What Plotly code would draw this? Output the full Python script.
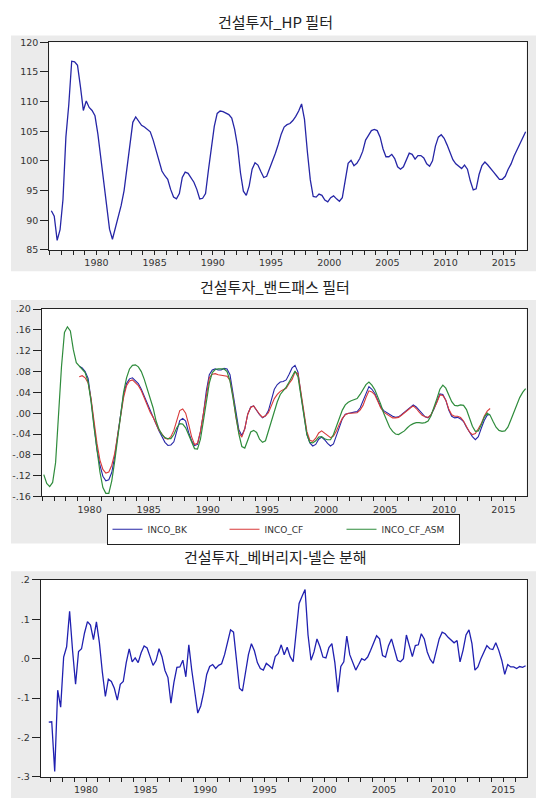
import plotly.graph_objects as go

# ---------------- data (quarterly) ----------------
hp_start = (1976, 1)
hp_values = [
    91.6, 90.7, 86.6, 88.4,
    93.5, 104.0, 109.5, 116.8,
    116.7, 116.1, 112.5, 108.5,
    110.1, 109.0, 108.5, 107.6,
    104.5, 100.5, 96.3, 92.8,
    88.5, 86.8, 88.6, 90.5,
    92.5, 95.0, 99.0, 103.0,
    106.5, 107.4, 106.6, 106.0,
    105.7, 105.3, 104.9, 103.5,
    101.8, 99.8, 98.3, 97.5,
    96.9, 95.2, 93.9, 93.6,
    94.5, 97.2, 98.1, 97.9,
    97.1, 96.4, 95.2, 93.6,
    93.7, 94.5, 98.5, 102.5,
    105.8, 108.0, 108.4, 108.3,
    108.1, 107.8, 107.2, 105.3,
    102.5, 98.0, 94.9, 94.2,
    95.8, 98.6, 99.7, 99.3,
    98.2, 97.2, 97.4, 98.6,
    100.0, 101.3, 102.8, 104.5,
    105.7, 106.1, 106.3, 106.8,
    107.5, 108.4, 109.6, 107.0,
    101.5, 96.8, 94.0, 93.9,
    94.4, 94.2, 93.4, 93.1,
    93.8, 94.1, 93.6, 93.2,
    93.8, 97.0, 99.6, 100.1,
    99.2, 99.6, 100.4, 101.6,
    103.5, 104.3, 105.1, 105.3,
    105.1, 104.0, 102.0, 100.7,
    100.7, 101.1, 100.4, 99.0,
    98.6, 99.0, 100.1, 101.3,
    101.1, 100.3, 100.9, 100.9,
    100.5, 99.5, 99.1, 100.0,
    102.5, 104.0, 104.4, 103.8,
    102.7, 101.5, 100.2, 99.5,
    99.1, 98.7, 99.3, 98.6,
    96.6, 95.1, 95.3, 97.7,
    99.2, 99.8, 99.3, 98.6,
    98.1, 97.5, 96.9, 96.9,
    97.4, 98.6, 99.5, 100.8,
    101.9, 102.9, 103.8, 104.9,
]

asm_start = (1976, 1)
inco_cf_asm = [
    -0.118, -0.135, -0.141, -0.133,
    -0.095, 0.010, 0.090, 0.155,
    0.166, 0.158, 0.122, 0.097,
    0.091, 0.086, 0.078, 0.060,
    0.022, -0.027, -0.072, -0.113,
    -0.143, -0.154, -0.154, -0.130,
    -0.092, -0.050, 0.000, 0.040,
    0.068, 0.085, 0.092, 0.093,
    0.089, 0.080, 0.065, 0.047,
    0.030, 0.010, -0.015, -0.031,
    -0.041, -0.047, -0.049, -0.049,
    -0.041, -0.028, -0.020, -0.021,
    -0.028, -0.041, -0.057, -0.068,
    -0.069, -0.050, -0.015, 0.025,
    0.058, 0.078, 0.084, 0.085,
    0.085, 0.085, 0.080, 0.062,
    0.030, -0.005, -0.040, -0.064,
    -0.067, -0.052, -0.036, -0.033,
    -0.037, -0.050, -0.056, -0.053,
    -0.035, -0.015, 0.005, 0.022,
    0.036, 0.043, 0.050, 0.060,
    0.072, 0.081, 0.070, 0.030,
    -0.008, -0.041, -0.056, -0.057,
    -0.053, -0.046, -0.045, -0.049,
    -0.051, -0.051, -0.041, -0.026,
    -0.011, 0.006, 0.016, 0.021,
    0.024, 0.026, 0.028, 0.036,
    0.046, 0.055, 0.060, 0.054,
    0.045, 0.032, 0.017, 0.000,
    -0.012, -0.027, -0.035, -0.040,
    -0.041, -0.038, -0.034, -0.028,
    -0.023, -0.020, -0.018, -0.018,
    -0.019, -0.018, -0.015, -0.005,
    0.010, 0.028, 0.046, 0.054,
    0.048, 0.033, 0.022, 0.015,
    0.014, 0.016, 0.015, 0.007,
    -0.008, -0.025, -0.035, -0.034,
    -0.022, -0.008, 0.000, -0.004,
    -0.016, -0.027, -0.033, -0.035,
    -0.034, -0.027, -0.013, 0.002,
    0.017, 0.030, 0.040, 0.047,
]

bk_start = (1979, 1)
inco_bk = [
    0.090, 0.087, 0.080, 0.067,
    0.025, -0.027, -0.070, -0.100,
    -0.121, -0.130, -0.128, -0.114,
    -0.083, -0.042, -0.002, 0.036,
    0.057, 0.066, 0.068, 0.063,
    0.057, 0.046, 0.032, 0.018,
    0.005, -0.009, -0.021, -0.034,
    -0.045, -0.056, -0.062, -0.061,
    -0.055, -0.032, -0.014, -0.010,
    -0.015, -0.037, -0.053, -0.062,
    -0.060, -0.036, -0.001, 0.043,
    0.074, 0.083, 0.085, 0.083,
    0.083, 0.086, 0.085, 0.074,
    0.038, -0.003, -0.032, -0.043,
    -0.030, -0.002, 0.012, 0.014,
    0.005, -0.003, -0.009, -0.005,
    0.005, 0.028, 0.046, 0.055,
    0.060, 0.061, 0.064, 0.075,
    0.087, 0.092, 0.079, 0.036,
    -0.005, -0.040, -0.057, -0.063,
    -0.060, -0.050, -0.046, -0.051,
    -0.058, -0.063, -0.059, -0.044,
    -0.025, -0.011, -0.002, 0.000,
    0.001, 0.002, 0.003, 0.010,
    0.024, 0.040, 0.051, 0.046,
    0.038, 0.025, 0.012, 0.005,
    0.001, -0.003, -0.006, -0.008,
    -0.007, -0.003, 0.002, 0.007,
    0.011, 0.016, 0.012, 0.006,
    -0.001, -0.007, -0.009, -0.003,
    0.008, 0.022, 0.037, 0.036,
    0.025, 0.006, -0.006, -0.009,
    -0.008, -0.011, -0.016, -0.027,
    -0.037, -0.045, -0.051, -0.045,
    -0.029, -0.014, -0.004, -0.002,
]

cf_start = (1979, 1)
inco_cf = [
    0.070, 0.072, 0.068, 0.058,
    0.028, -0.020, -0.058, -0.090,
    -0.108, -0.115, -0.113, -0.100,
    -0.077, -0.042, -0.006, 0.030,
    0.053, 0.062, 0.064, 0.059,
    0.053, 0.043, 0.029, 0.014,
    0.002, -0.008, -0.020, -0.033,
    -0.040, -0.048, -0.050, -0.045,
    -0.033, -0.013, 0.005, 0.008,
    0.000, -0.021, -0.045, -0.060,
    -0.058, -0.035, -0.001, 0.040,
    0.068, 0.075, 0.076, 0.074,
    0.073, 0.071, 0.071, 0.063,
    0.033, -0.008, -0.037, -0.046,
    -0.030, -0.002, 0.011, 0.014,
    0.005, -0.002, -0.008, -0.005,
    0.001, 0.016, 0.028, 0.036,
    0.042, 0.045, 0.048, 0.057,
    0.065, 0.079, 0.076, 0.040,
    -0.002, -0.035, -0.052, -0.054,
    -0.048, -0.038, -0.034, -0.038,
    -0.043, -0.047, -0.044, -0.034,
    -0.021, -0.010, -0.003, 0.000,
    0.000, 0.000, 0.001, 0.006,
    0.015, 0.030, 0.043, 0.041,
    0.035, 0.023, 0.010, 0.002,
    -0.002, -0.005, -0.009, -0.009,
    -0.008, -0.004, 0.001, 0.006,
    0.010, 0.014, 0.009, 0.002,
    -0.004, -0.007, -0.008, -0.003,
    0.008, 0.021, 0.035, 0.034,
    0.025, 0.008, -0.003, -0.006,
    -0.006, -0.008, -0.015, -0.026,
    -0.036, -0.041, -0.039, -0.030,
    -0.020, -0.006, 0.004, 0.009,
]

bn_start = (1976, 4)
bn_values = [
    -0.161,
    -0.160, -0.286, -0.080, -0.123,
    0.004, 0.030, 0.120, 0.020,
    -0.065, 0.018, 0.025, 0.065,
    0.094, 0.085, 0.048, 0.093,
    0.040, -0.035, -0.096, -0.052,
    -0.058, -0.075, -0.105, -0.065,
    -0.058, -0.010, 0.025, -0.008,
    0.002, -0.010, 0.015, 0.032,
    0.027, 0.005, -0.017, -0.005,
    0.025, 0.005, -0.030, -0.048,
    -0.113, -0.060, -0.022, -0.021,
    -0.004, -0.046, 0.035, -0.030,
    -0.080, -0.138, -0.120, -0.085,
    -0.040, -0.020, -0.015, -0.025,
    -0.017, -0.013, 0.010, 0.040,
    0.073, 0.067, 0.000, -0.075,
    -0.082, -0.030, 0.010, 0.038,
    0.020, -0.010, -0.025, -0.029,
    -0.012, -0.018, -0.025, 0.005,
    0.013, 0.035, 0.010, 0.029,
    0.005, -0.008, 0.075, 0.140,
    0.158, 0.175, 0.060, -0.004,
    0.017, 0.050, 0.030, 0.004,
    0.002, 0.028, 0.038, -0.010,
    -0.085, -0.020, -0.008, 0.057,
    0.010, -0.008, -0.029, -0.015,
    0.000, -0.004, 0.004, 0.021,
    0.042, 0.058, 0.050, 0.008,
    0.004, 0.033, 0.050, 0.021,
    -0.004, -0.008, 0.000, 0.060,
    0.029, 0.005, 0.033, 0.035,
    0.063, 0.050, 0.017, -0.002,
    -0.012, 0.017, 0.050, 0.067,
    0.063, 0.054, 0.046, 0.040,
    0.046, -0.008, 0.021, 0.060,
    0.073, 0.038, -0.029, -0.021,
    0.000, 0.017, 0.033, 0.025,
    0.023, 0.040, 0.021, -0.004,
    -0.040, -0.015, -0.021, -0.021,
    -0.025, -0.020, -0.022, -0.018,
]

titles = ["건설투자_HP 필터", "건설투자_밴드패스 필터", "건설투자_베버리지-넬슨 분해"]
year_ticks = [1980, 1985, 1990, 1995, 2000, 2005, 2010, 2015]
hp_ticks = [85, 90, 95, 100, 105, 110, 115, 120]
bp_ticks = [-0.16, -0.12, -0.08, -0.04, 0.0, 0.04, 0.08, 0.12, 0.16, 0.20]
bp_ticktext = ["-.16", "-.12", "-.08", "-.04", ".00", ".04", ".08", ".12", ".16", ".20"]
bn_ticks = [-0.3, -0.2, -0.1, 0.0, 0.1, 0.2]
bn_ticktext = ["-.3", "-.2", "-.1", ".0", ".1", ".2"]


def quarter_x(start, n):
    y, q = start
    return [y + (q - 1) / 4 + 0.125 + 0.25 * i for i in range(n)]


W, H = 536, 803


def px_x(p):
    return p / W


def px_y(p):
    return 1 - p / H


BLUE = "#2626a6"
RED = "#d83a3a"
GREEN = "#2f8c3c"
GRAY = "#ebebeb"
FONT = "DejaVu Sans"

# plot-area boxes in pixels: (left, top, right, bottom)
boxes = [(49.3, 36.7, 526.5, 247.3), (41.7, 307.3, 526.5, 497.3), (40.7, 581.7, 526.5, 781.7)]

fig = go.Figure()
fig.add_trace(go.Scatter(x=quarter_x(hp_start, len(hp_values)), y=hp_values, mode="lines",
                         line=dict(color=BLUE, width=1.3), xaxis="x", yaxis="y", showlegend=False))
fig.add_trace(go.Scatter(x=quarter_x(bk_start, len(inco_bk)), y=inco_bk, mode="lines", name="INCO_BK",
                         line=dict(color=BLUE, width=1.1), xaxis="x2", yaxis="y2"))
fig.add_trace(go.Scatter(x=quarter_x(cf_start, len(inco_cf)), y=inco_cf, mode="lines", name="INCO_CF",
                         line=dict(color=RED, width=1.1), xaxis="x2", yaxis="y2"))
fig.add_trace(go.Scatter(x=quarter_x(asm_start, len(inco_cf_asm)), y=inco_cf_asm, mode="lines", name="INCO_CF_ASM",
                         line=dict(color=GREEN, width=1.2), xaxis="x2", yaxis="y2"))
fig.add_trace(go.Scatter(x=quarter_x(bn_start, len(bn_values)), y=bn_values, mode="lines",
                         line=dict(color="#2020b0", width=1.3), xaxis="x3", yaxis="y3", showlegend=False))

tickfont = dict(family=FONT, size=9.5, color="#333333")


def xaxis(box, rng, anchor):
    return dict(domain=[px_x(box[0]), px_x(box[2])], range=rng, anchor=anchor, showgrid=False, zeroline=False,
                showline=True, linecolor="#222222", linewidth=1, mirror=True,
                tickmode="array", tickvals=year_ticks, ticks="outside", ticklen=4,
                tickcolor="#222222", tickfont=tickfont, fixedrange=True,
                minor=dict(dtick=1, tick0=1976, ticks="outside", ticklen=4, tickcolor="#222222", showgrid=False))


def yaxis(box, rng, anchor, vals, text=None):
    d = dict(domain=[px_y(box[3]), px_y(box[1])], range=rng, anchor=anchor, showgrid=False, zeroline=False,
             showline=True, linecolor="#222222", linewidth=1, mirror=True,
             tickmode="array", tickvals=vals, ticks="outside", ticklen=8,
             tickcolor="#222222", tickfont=tickfont, fixedrange=True)
    if text is not None:
        d["ticktext"] = text
    return d


fig.update_layout(
    width=W, height=H, autosize=False,
    margin=dict(l=0, r=0, t=0, b=0),
    paper_bgcolor="white", plot_bgcolor="white",
    xaxis=xaxis(boxes[0], [1975.95, 2016.95], "y"),
    yaxis=yaxis(boxes[0], [85, 120], "x", hp_ticks),
    xaxis2=xaxis(boxes[1], [1975.95, 2016.95], "y2"),
    yaxis2=yaxis(boxes[1], [-0.16, 0.20], "x2", bp_ticks, bp_ticktext),
    xaxis3=xaxis(boxes[2], [1976.2, 2016.95], "y3"),
    yaxis3=yaxis(boxes[2], [-0.3, 0.2], "x3", bn_ticks, bn_ticktext),
    showlegend=True,
    legend=dict(orientation="h", x=px_x(283), y=px_y(530.5), xanchor="center", yanchor="middle",
                bordercolor="#222222", borderwidth=1, bgcolor="white",
                font=dict(family=FONT, size=9, color="#333333"),
                entrywidth=72, entrywidthmode="pixels", itemwidth=30, tracegroupgap=0),
)

# gray panel backgrounds, then white plot areas on top of them
for top, bottom in [(30, 269), (298, 545), (573, 803)]:
    fig.add_shape(type="rect", xref="paper", yref="paper", x0=px_x(11), x1=1.0,
                  y0=px_y(bottom), y1=px_y(top), fillcolor=GRAY, line=dict(width=0), layer="below")
for l, t, r, b in boxes:
    fig.add_shape(type="rect", xref="paper", yref="paper", x0=px_x(l), x1=px_x(r),
                  y0=px_y(b), y1=px_y(t), fillcolor="white", line=dict(width=0), layer="below")

# titles
for t, yc in zip(titles, [16, 284, 558]):
    fig.add_annotation(text=t, xref="paper", yref="paper", x=px_x(275), y=px_y(yc),
                       xanchor="center", yanchor="middle", showarrow=False,
                       font=dict(family="Noto Sans CJK KR", size=15, color="#222222"))

fig.write_html("out.html", config={"displayModeBar": False},
               post_script="document.body.style.margin='0px';document.body.style.overflow='hidden';")
